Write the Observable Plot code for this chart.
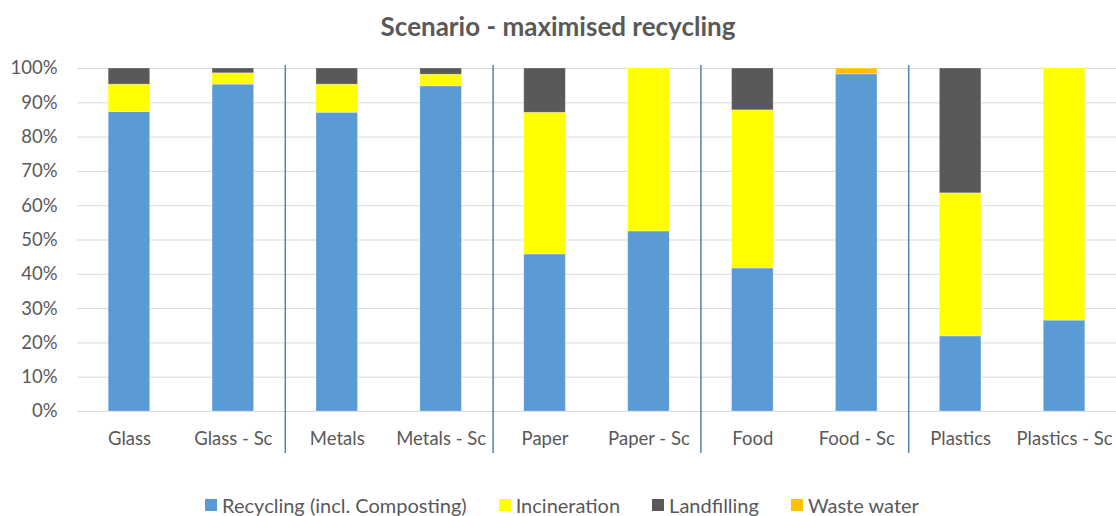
<!DOCTYPE html>
<html>
<head>
<meta charset="utf-8">
<script src="https://cdn.jsdelivr.net/npm/d3@7"></script>
<script src="https://cdn.jsdelivr.net/npm/@observablehq/plot@0.6"></script>
<style>
  body { margin: 0; background: #fff; font-family: Lato, "Open Sans", sans-serif; }
  #wrap { width: 1116px; height: 516px; position: relative; overflow: hidden; }
  #title { position: absolute; left: 0; top: 10px; width: 1116px; text-align: center; font-size: 26px; font-weight: bold; color: #595959; }
  #chart { position: absolute; left: 0; top: 50px; }
  #legend { position: absolute; left: 0; top: 494px; height: 22px; line-height: 20px; width: 1116px; display: flex; justify-content: center; gap: 32px; font-size: 20px; color: #595959; padding-left: 8px; box-sizing: border-box; }
  #legend span.item { display: flex; align-items: center; gap: 5px; }
  #legend span.sw { width: 12px; height: 12px; display: inline-block; }
</style>
</head>
<body>
<div id="wrap">
  <div id="title">Scenario - maximised recycling</div>
  <div id="chart"></div>
  <div id="legend"></div>
</div>
<script>
const categories = ["Glass", "Glass - Sc", "Metals", "Metals - Sc", "Paper", "Paper - Sc", "Food", "Food - Sc", "Plastics", "Plastics - Sc"];
const recycling    = [87.3, 95.3, 87.1, 94.8, 45.8, 52.5, 41.7, 98.3, 21.9, 26.5];
const incineration = [8.0, 3.3, 8.2, 3.4, 41.3, 47.5, 46.1, 0.0, 41.7, 73.5];
const landfilling  = [4.7, 1.4, 4.7, 1.8, 12.9, 0.0, 12.2, 0.0, 36.4, 0.0];
const wasteWater   = [0.0, 0.0, 0.0, 0.0, 0.0, 0.0, 0.0, 1.7, 0.0, 0.0];
const seriesNames  = ["Recycling (incl. Composting)", "Incineration", "Landfilling", "Waste water"];
const seriesColors = ["#5B9BD5", "#FFFF00", "#595959", "#FFC000"];
const separatorsAfter = ["Glass - Sc", "Metals - Sc", "Paper - Sc", "Food - Sc"];
const yTicks = [0, 0.1, 0.2, 0.3, 0.4, 0.5, 0.6, 0.7, 0.8, 0.9, 1.0];

const seriesValues = [recycling, incineration, landfilling, wasteWater];
const rows = [];
categories.forEach((c, i) => {
  seriesValues.forEach((vals, s) => {
    rows.push({category: c, series: seriesNames[s], order: s, value: vals[i] / 100});
  });
});

const width = 1116;
const height = 420;
const marginLeft = 77, marginRight = 0, marginTop = 18, marginBottom = 59;
const step = (width - marginLeft - marginRight) / categories.length;

const chart = Plot.plot({
  width, height, marginLeft, marginRight, marginTop, marginBottom,
  style: {fontFamily: "Lato, 'Open Sans', sans-serif", fontSize: "18.5px", color: "#595959", background: "#fff"},
  x: {domain: categories, paddingInner: 0.6, paddingOuter: 0.3, round: false, label: null, tickSize: 0, tickPadding: 20},
  y: {domain: [0, 1], ticks: yTicks, tickFormat: d3.format(".0%"), label: null, tickSize: 0, tickPadding: 20},
  color: {domain: seriesNames, range: seriesColors},
  marks: [
    Plot.gridY(yTicks, {stroke: "#D9D9D9", strokeOpacity: 1, strokeWidth: 1}),
    Plot.barY(rows, Plot.stackY({x: "category", y: "value", fill: "series", order: "order", stroke: "#ffffff", strokeOpacity: 0.35, strokeWidth: 0.8})),
    Plot.ruleX(separatorsAfter, {x: d => d, dx: step / 2, stroke: "#4F81BD", strokeWidth: 1.5, insetTop: -3, insetBottom: -42})
  ]
});
document.getElementById("chart").appendChild(chart);

const legend = document.getElementById("legend");
seriesNames.forEach((n, i) => {
  const item = document.createElement("span");
  item.className = "item";
  const sw = document.createElement("span");
  sw.className = "sw";
  sw.style.background = seriesColors[i];
  const t = document.createElement("span");
  t.textContent = n;
  item.appendChild(sw);
  item.appendChild(t);
  legend.appendChild(item);
});
</script>
</body>
</html>
